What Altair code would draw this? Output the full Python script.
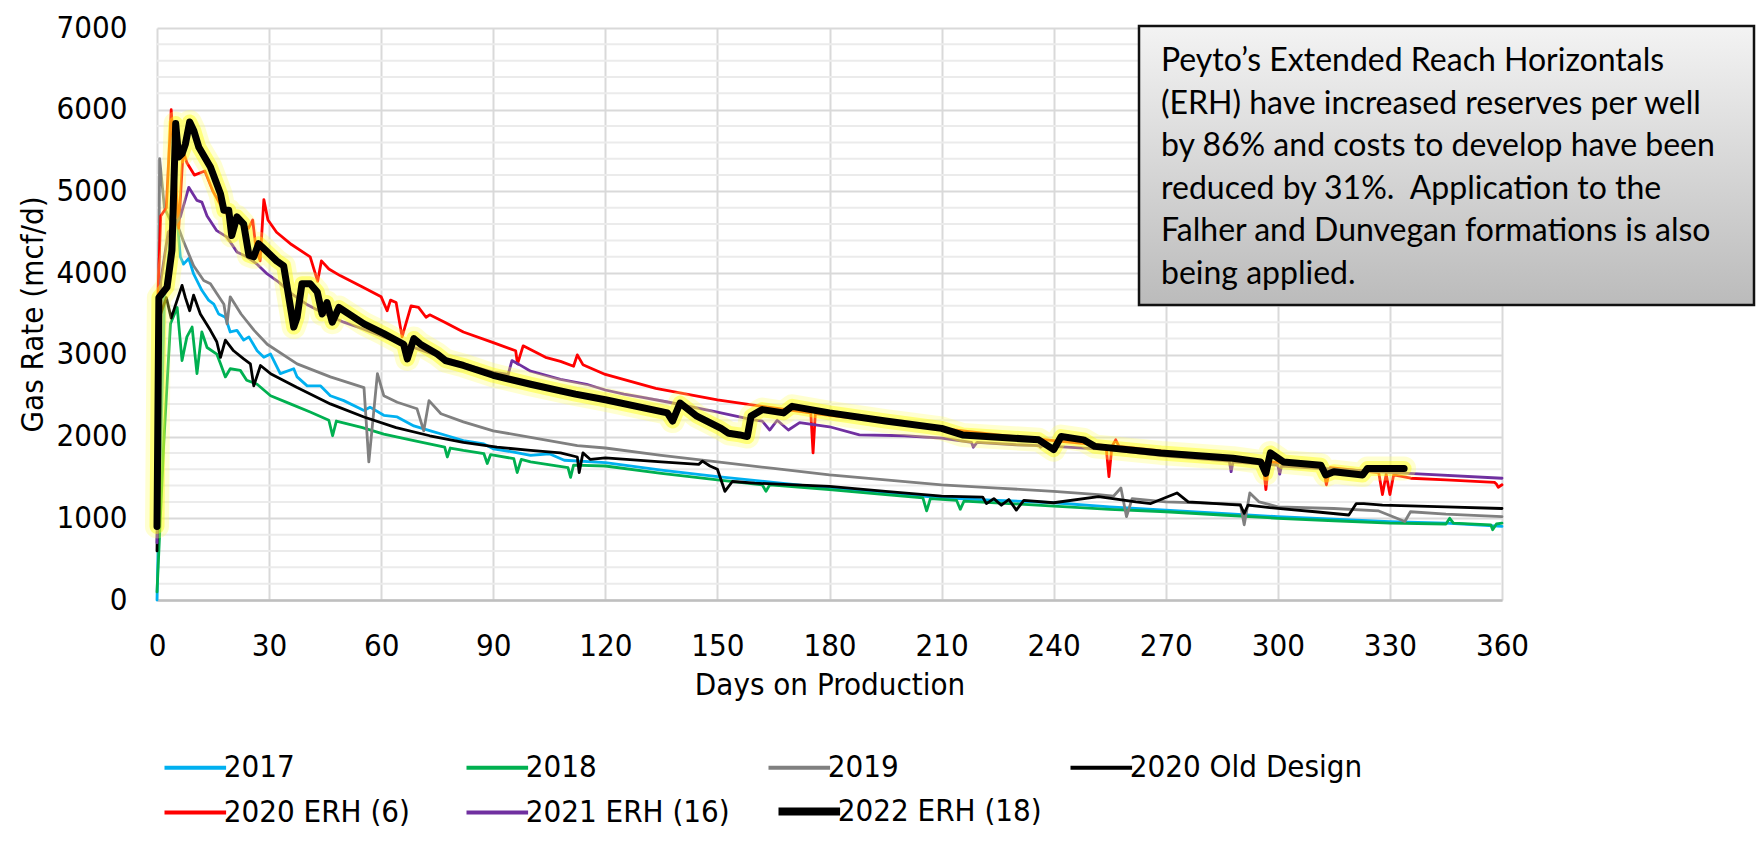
import altair as alt
import pandas as pd

FONT = "DejaVu Sans Condensed, DejaVu Sans, sans-serif"
NOTE_FONT = "Lato, Open Sans, sans-serif"

SERIES = ["2017", "2018", "2019", "2020 Old Design", "2020 ERH (6)", "2021 ERH (16)", "2022 ERH (18)"]
COLORS = ["#00B0F0", "#00B050", "#808080", "#000000", "#FF0000", "#7030A0", "#000000"]

X_TICKS = [0, 30, 60, 90, 120, 150, 180, 210, 240, 270, 300, 330, 360]
Y_TICKS = [0, 1000, 2000, 3000, 4000, 5000, 6000, 7000]
MINOR_Y = [200, 400, 600, 800, 1200, 1400, 1600, 1800, 2200, 2400, 2600, 2800,
           3200, 3400, 3600, 3800, 4200, 4400, 4600, 4800, 5200, 5400, 5600, 5800,
           6200, 6400, 6600, 6800]

D2017 = [0, 0.5, 2, 4, 5.4, 6.25, 7.1, 8.5, 9.8, 12, 13.8, 15.2, 16.5, 18.3, 19.6, 21.4, 23.2, 24.6,
         26.8, 28.6, 30.4, 33, 36.6, 37.5, 40.2, 43.8, 46.4, 50, 55.4, 57, 60.7, 64.3, 68.75, 73.2,
         77.7, 82, 87.5, 90, 95.5, 100, 105, 109, 120, 135, 150, 165, 180, 195, 210, 225, 240, 255,
         270, 285, 300, 315, 330, 345, 360]
R2017 = [0, 1000, 3700, 4600, 4650, 4200, 4110, 4180, 3990, 3790, 3670, 3620, 3500, 3460, 3280, 3300,
         3180, 3220, 3050, 2970, 3010, 2770, 2830, 2730, 2620, 2620, 2500, 2440, 2320, 2360, 2260,
         2240, 2130, 2070, 2010, 1950, 1910, 1850, 1810, 1770, 1790, 1710, 1680, 1590, 1510, 1440,
         1370, 1310, 1250, 1220, 1190, 1140, 1100, 1060, 1020, 990, 960, 940, 900]

D2018 = [0, 1.8, 3.6, 5.4, 6.7, 8, 9.4, 10.7, 12, 13.4, 16, 17, 18.3, 19.6, 22.3, 24, 26.8, 30.4,
         35.7, 41, 46, 47, 48, 55, 60.7, 68.75, 77, 77.7, 78.5, 82, 87.5, 88.4, 89.3, 95.5, 96.4,
         97.5, 100, 110, 110.7, 111.5, 120, 135, 150, 162, 163, 164, 180, 195, 205, 206, 207, 214,
         215, 216, 240, 255, 270, 285, 300, 315, 330, 345, 346, 347, 357, 357.5, 358.5, 360]
R2018 = [100, 1910, 3380, 3580, 2930, 3220, 3340, 2770, 3280, 3090, 3010, 2890, 2730, 2830, 2810,
         2690, 2640, 2500, 2400, 2300, 2200, 2010, 2190, 2110, 2030, 1950, 1870, 1750, 1860, 1830,
         1790, 1670, 1780, 1730, 1560, 1720, 1690, 1620, 1500, 1650, 1640, 1550, 1470, 1410, 1330,
         1410, 1350, 1290, 1250, 1090, 1240, 1220, 1110, 1210, 1150, 1110, 1080, 1040, 1000, 970,
         940, 930, 1000, 940, 920, 860, 930, 940]

D2019 = [0, 0.7, 2, 4, 5.4, 7, 9.8, 12.5, 14.3, 16, 17.9, 18.75, 19.6, 22.5, 26, 29.5, 37.5, 46.4,
         55.4, 56.7, 59, 60.7, 64.3, 69.6, 71.4, 72.8, 76, 82, 90, 100, 112.5, 120, 135, 150, 165,
         180, 195, 210, 225, 240, 252, 256, 258, 259.5, 261, 270, 285, 290, 291, 292.5, 295, 300,
         315, 327, 334, 335.5, 345, 360]
R2019 = [900, 5400, 4800, 4600, 4600, 4400, 4090, 3910, 3870, 3750, 3620, 3380, 3710, 3500, 3300,
         3130, 2890, 2730, 2600, 1690, 2770, 2500, 2420, 2340, 2070, 2440, 2280, 2180, 2070, 1990,
         1890, 1860, 1770, 1690, 1610, 1530, 1470, 1410, 1370, 1330, 1290, 1270, 1370, 1020, 1240,
         1200, 1180, 1170, 920, 1310, 1200, 1140, 1120, 1090, 960, 1080, 1050, 1020]

D2020OLD = [0, 1, 2.5, 3.8, 6.7, 7.6, 8.75, 9.8, 11.6, 14.3, 16, 17, 18.3, 20.5, 23.2, 25, 25.9,
            27.7, 30.4, 37.5, 46.4, 55.4, 64, 73, 82, 91, 100, 108, 112.5, 113, 114, 116, 120, 135,
            145, 146, 148, 150, 152, 154, 160, 180, 195, 210, 221, 222, 224, 226, 228, 230, 232,
            240, 252, 262, 266, 273, 276, 290, 291, 292, 300, 310, 319, 321, 323, 328, 345, 360]
R2020OLD = [600, 3500, 3700, 3450, 3850, 3700, 3540, 3730, 3500, 3300, 3160, 2970, 3180, 3050, 2950,
            2890, 2620, 2870, 2770, 2600, 2400, 2240, 2110, 2010, 1930, 1870, 1830, 1800, 1750, 1560,
            1800, 1720, 1740, 1690, 1660, 1700, 1640, 1600, 1330, 1450, 1430, 1390, 1330, 1270, 1260,
            1180, 1240, 1160, 1230, 1100, 1220, 1190, 1265, 1200, 1180, 1310, 1200, 1160, 1060, 1160,
            1120, 1080, 1040, 1180, 1180, 1160, 1140, 1120]

DERH20 = [0, 0.3, 1, 2.5, 3.8, 5.8, 7, 8, 10, 12.8, 15, 18, 21, 24.5, 25.6, 26.5, 27.6, 28.6, 29.7,
          32, 36, 41, 43, 44, 46, 49, 55, 60, 61.6, 62.5, 64, 65.6, 68, 70, 72, 73, 77, 82, 90, 96,
          96.5, 98, 104, 108, 111.5, 112.5, 114, 120, 133.5, 150, 162, 170, 175, 175.6, 176.2, 180,
          195, 210, 225, 240, 254, 254.8, 255.6, 256.6, 257.5, 270, 285, 296, 296.8, 297.6, 312,
          313, 314, 327, 328, 329, 330, 331, 335.6, 345, 358, 358.5, 359, 360]
RERH20 = [1800, 3800, 4700, 4800, 6000, 4550, 5500, 5350, 5200, 5250, 5000, 4750, 4650, 4550, 4650,
          4300, 4150, 4900, 4650, 4500, 4350, 4200, 3900, 4150, 4050, 3970, 3830, 3710, 3540, 3670,
          3640, 3220, 3600, 3580, 3460, 3490, 3400, 3280, 3150, 3050, 2890, 3110, 2970, 2920, 2860,
          3000, 2880, 2760, 2590, 2450, 2370, 2320, 2290, 1800, 2280, 2260, 2180, 2100, 2020, 1950,
          1890, 1510, 1880, 1960, 1880, 1820, 1760, 1700, 1350, 1690, 1640, 1410, 1620, 1560, 1290,
          1540, 1290, 1530, 1490, 1470, 1440, 1420, 1380, 1410]

DERH21 = [0, 1, 3, 5, 6.25, 8.5, 10.7, 12, 13.4, 16, 18.75, 21.4, 24, 26.8, 29.5, 32.6, 36, 40, 45,
          50, 55, 60, 65, 70, 75, 80, 85, 90, 94, 95, 97, 100, 108, 115, 120, 125, 130, 137, 150,
          159, 162, 164, 166, 169, 172, 180, 188, 200, 210, 218, 218.5, 219.5, 230, 236, 236.5, 237,
          240, 255, 270, 287, 287.5, 288, 300, 300.5, 301, 315, 335, 360]
RERH21 = [700, 3900, 4500, 4600, 4690, 5050, 4890, 4870, 4700, 4520, 4440, 4260, 4200, 4110, 3990,
          3890, 3750, 3620, 3500, 3400, 3320, 3230, 3150, 3070, 2990, 2920, 2850, 2790, 2760, 2930,
          2880, 2800, 2700, 2640, 2570, 2520, 2480, 2420, 2300, 2210, 2190, 2080, 2200, 2080, 2170,
          2120, 2020, 2010, 1980, 1930, 1870, 1930, 1900, 1890, 1870, 1890, 1880, 1840, 1760, 1700,
          1570, 1690, 1650, 1540, 1640, 1600, 1550, 1490]

DERH22 = [0, 0.5, 2.7, 4, 5, 5.8, 6.7, 7.6, 8.75, 9.8, 11.2, 14.3, 17, 17.9, 19.2, 20, 21.4, 23.2,
          24.6, 25.9, 27.2, 28.6, 32, 33.9, 35.3, 36.6, 37.5, 38.8, 41, 42.9, 44.2, 45.5, 46.9, 48.7,
          55.4, 60.7, 66, 67, 68.75, 70.5, 75, 77.2, 82, 90, 100, 108, 112, 120, 136.6, 138, 140,
          144.5, 151, 153, 156, 158, 159, 162, 167.7, 170, 180, 195, 210, 215.6, 236, 240, 242, 248,
          251, 268.7, 288, 295.4, 296.8, 298, 301.5, 311.5, 312.8, 315, 322.7, 324, 333.8]
RERH22 = [900, 3700, 3830, 4280, 5830, 5420, 5460, 5580, 5850, 5750, 5540, 5300, 4970, 4770, 4770,
          4460, 4690, 4600, 4220, 4200, 4360, 4300, 4150, 4090, 3700, 3340, 3460, 3870, 3870, 3770,
          3500, 3640, 3400, 3580, 3380, 3260, 3130, 2950, 3200, 3130, 3010, 2930, 2870, 2750, 2640,
          2560, 2520, 2450, 2290, 2190, 2410, 2250, 2100, 2040, 2020, 2000, 2250, 2330, 2290, 2370,
          2290, 2190, 2100, 2020, 1960, 1840, 2000, 1960, 1880, 1800, 1735, 1690, 1550, 1800, 1690,
          1650, 1530, 1570, 1530, 1610, 1610]

NOTE_LINES = ["Peyto\u2019s Extended Reach Horizontals",
              "(ERH) have increased reserves per well",
              "by 86% and costs to develop have been",
              "reduced by 31%.\u00a0 Application to the",
              "Falher and Dunvegan formations is also",
              "being applied."]

ALL = [(SERIES[0], D2017, R2017), (SERIES[1], D2018, R2018), (SERIES[2], D2019, R2019),
       (SERIES[3], D2020OLD, R2020OLD), (SERIES[4], DERH20, RERH20), (SERIES[5], DERH21, RERH21),
       (SERIES[6], DERH22, RERH22)]
frames = [pd.DataFrame({"series": n, "day": d, "rate": r}) for n, d, r in ALL]
df = pd.concat(frames, ignore_index=True)
df["idx"] = range(len(df))
df_thin = df[df["series"] != SERIES[6]]
df22 = df[df["series"] == SERIES[6]]

xs = alt.Scale(domain=[0, 360], nice=False, zero=False)
ys = alt.Scale(domain=[0, 7000], nice=False)

x_enc = alt.X("day:Q", scale=xs, axis=alt.Axis(
    values=X_TICKS, title="Days on Production", labelFontSize=31, titleFontSize=31,
    labelPadding=31, titlePadding=9, domain=True, domainColor="#BFBFBF", domainWidth=2.5,
    grid=True, gridColor="#D9D9D9", gridWidth=2, ticks=False, tickSize=0,
    labelFlush=False))
y_enc = alt.Y("rate:Q", scale=ys, axis=alt.Axis(
    values=Y_TICKS, format="d", title="Gas Rate (mcf/d)", labelFontSize=31, titleFontSize=31,
    labelPadding=30, titlePadding=7, domain=False, grid=True, gridColor="#D9D9D9",
    gridWidth=2, ticks=False, tickSize=0, labelFlush=False))

LEG_X = 22.8
LEG_Y = 724
COL_PITCH = 307
ROW_PITCH = 44

leg_main = alt.Legend(title=None, orient="none", legendX=LEG_X, legendY=LEG_Y,
                      direction="horizontal", columns=4, symbolType="M-2.8,0H2.8",
                      symbolSize=484, symbolStrokeWidth=4, labelFont=FONT, labelFontSize=31,
                      labelColor="#000000", labelOffset=13, rowPadding=13, columnPadding=1,
                      gridAlign="all", padding=0, labelLimit=400)
leg_22 = alt.Legend(title=None, orient="none", legendX=LEG_X + 2 * COL_PITCH,
                    legendY=LEG_Y + ROW_PITCH, direction="horizontal",
                    symbolType="M-2.8,0H2.8", symbolSize=484, symbolStrokeWidth=8,
                    labelFont=FONT, labelFontSize=31, labelColor="#000000", labelOffset=13,
                    padding=0, labelLimit=400)

minor = alt.Chart(pd.DataFrame({"rate": MINOR_Y})).mark_rule(
    color="#EBEBEB", strokeWidth=2).encode(y=alt.Y("rate:Q", scale=ys))

lines = alt.Chart(df_thin).mark_line(strokeWidth=2.8, strokeJoin="round", strokeCap="round").encode(
    x=x_enc, y=y_enc,
    color=alt.Color("series:N", scale=alt.Scale(domain=SERIES[:6], range=COLORS[:6]),
                    legend=leg_main),
    order="idx:Q")

glow_outer = alt.Chart(df22).mark_line(color="#FFFF66", strokeWidth=24, opacity=0.3,
                                       strokeJoin="round", strokeCap="round").encode(
    x=alt.X("day:Q", scale=xs), y=alt.Y("rate:Q", scale=ys), order="idx:Q")
glow_inner = alt.Chart(df22).mark_line(color="#FFFF00", strokeWidth=15, opacity=0.42,
                                       strokeJoin="round", strokeCap="round").encode(
    x=alt.X("day:Q", scale=xs), y=alt.Y("rate:Q", scale=ys), order="idx:Q")
top22 = alt.Chart(df22).mark_line(strokeWidth=7, strokeJoin="round", strokeCap="round").encode(
    x=alt.X("day:Q", scale=xs), y=alt.Y("rate:Q", scale=ys),
    color=alt.Color("series:N", scale=alt.Scale(domain=[SERIES[6]], range=[COLORS[6]]),
                    legend=leg_22),
    order="idx:Q")

one = pd.DataFrame({"k": [0]})
box = alt.Chart(one).mark_rect(
    fill=alt.Gradient(gradient="linear", x1=0, x2=0, y1=0, y2=1,
                      stops=[alt.GradientStop(color="#F3F3F3", offset=0),
                             alt.GradientStop(color="#BBBBBB", offset=1)]),
    stroke="#111111", strokeWidth=2.5).encode(
    x=alt.value(982), x2=alt.value(1597), y=alt.value(-2), y2=alt.value(277))
note = alt.Chart(one).mark_text(text=NOTE_LINES, align="left", baseline="alphabetic",
                                font=NOTE_FONT, fontSize=32, lineHeight=42.5,
                                color="#000000").encode(x=alt.value(1004), y=alt.value(43))

chart = alt.layer(minor, lines, glow_outer, glow_inner, top22, box, note).resolve_scale(
    color="independent"
).resolve_legend(color="independent").properties(
    width=1345, height=572,
    padding={"left": 149, "top": 20, "right": 254, "bottom": 227},
    autosize=alt.AutoSizeParams(type="none"),
    background="#FFFFFF",
).configure_view(stroke=None).configure_axis(
    labelFont=FONT, titleFont=FONT, labelColor="#000000", titleColor="#000000",
    titleFontWeight="normal")

chart.save("out.html", embed_options={"renderer": "svg", "actions": False})
